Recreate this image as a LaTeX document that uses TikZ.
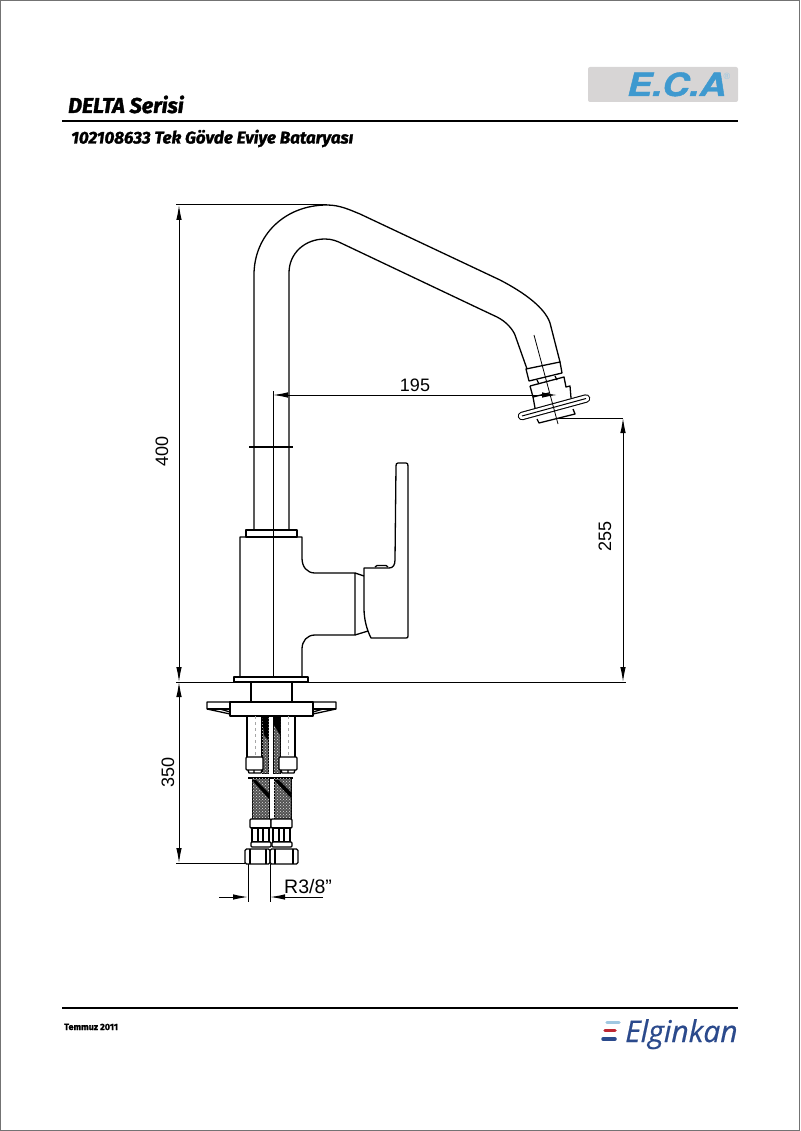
\documentclass[tikz,border=0pt]{standalone}
\usepackage{fontspec}
\usepackage{tikz}
\usetikzlibrary{arrows.meta,patterns}
\setmainfont{Liberation Sans}
\newfontfamily\titlefont[FakeBold=1.6]{Fira Sans}
\newfontfamily\logofont[FakeBold=1.2]{TeX Gyre Heros}
\newfontfamily\brandfont[FakeBold=0.5]{Open Sans}
\definecolor{ecagray}{RGB}{215,213,213}
\definecolor{ecablue}{RGB}{62,153,207}
\definecolor{brandblue}{RGB}{43,74,140}
\definecolor{brandred}{RGB}{190,40,50}
\definecolor{brandsky}{RGB}{160,200,225}
\tikzset{
	part/.style={line width=1.3pt, line join=round},
	thinpart/.style={line width=0.8pt, black!35, dashed},
	dimline/.style={line width=1pt},
	dimarrow/.style={line width=1pt, {Latex[length=15pt,width=5.5pt]}-{Latex[length=15pt,width=5.5pt]}},
	dimlabel/.style={font=\fontsize{18}{18}\selectfont, inner sep=0pt},
	rulebar/.style={line width=2.4pt},
	hose/.style={draw, line width=1pt, fill=black!68, postaction={pattern=crosshatch dots, pattern color=black!12}},
}
\begin{document}
\begin{tikzpicture}[x=1pt, y=-1pt]
	\useasboundingbox (0,0) rectangle (800,1131);
	\draw[black!55, line width=1.5pt] (0.7,0.7) rectangle (799.5,1130.3);

	% header
	\node[anchor=base west, inner sep=0pt, font=\titlefont\bfseries\itshape\fontsize{21.5}{22}\selectfont] (title) at (68,113) {DELTA Serisi};
	\node[anchor=base west, inner sep=0pt, font=\titlefont\bfseries\itshape\fontsize{17}{17}\selectfont] (subtitle) at (71,143.5) {102108633 Tek Gövde Eviye Bataryası};
	\coordinate (rule1a) at (62,121);
	\coordinate (rule1b) at (738,121);
	\draw[rulebar] (rule1a) -- (rule1b);
	\fill[ecagray, rounded corners=2pt] (588,67) rectangle (738,102);
	\node[anchor=base west, inner sep=0pt, text=ecablue, xscale=1.16, transform shape, font=\logofont\bfseries\itshape\fontsize{32}{32}\selectfont] (eca) at (627,96) {E.C.A};
	\node[inner sep=0pt, text=ecablue!55!white, font=\fontsize{9}{9}\selectfont] (reg) at (727,76) {®};

	% spout
	\draw[part] (254,530) -- (254,275) .. controls (254,235) and (285,205) .. (327,205)
		.. controls (340,205) and (350,210) .. (360,214) -- (500,280)
		.. controls (525,293) and (545,308) .. (550,323) -- (560,362);
	\draw[part] (289,530) -- (289,273) .. controls (289,253) and (305,239) .. (325,239)
		.. controls (332,239) and (337,241) .. (343,244) -- (480,309) -- (497,317)
		.. controls (507,322) and (513,330) .. (515,335) -- (527,369);
	\draw[line width=2.6pt] (249,447) -- (293,447);

	% aerator
	\draw[part] (526,369) -- (560,362) -- (562,373) -- (529,381) -- cycle;
	\draw[part] (537,380) -- (539,384);
	\draw[part] (555,376) -- (557,380);
	\draw[part] (530,386) -- (564,377) -- (566,387) -- (570,386) -- (571,398);
	\draw[part] (530,386) -- (533,397) -- (535,408);
	\draw[part] (533,397) -- (549,393);
	\draw[part] (537,419) -- (539,423) -- (575,414) -- (573,409);
	\coordinate (capa) at (522,416);
	\coordinate (capb) at (586,398.5);
	\draw[line width=8.5pt, line cap=round] (capa) -- (capb);
	\draw[white, line width=6.3pt, line cap=round] (capa) -- (capb);
	\draw[line width=1pt] (capa) -- (capb);
	\draw[line width=0.8pt] (534,335) -- (558,424);

	% body
	\draw[part] (246,530) rectangle (297,537);
	\draw[part] (240,677) -- (240,537) -- (302,537) -- (302,558)
		.. controls (302,567) and (307,573) .. (315,573) -- (355,573) -- (355,635) -- (315,635)
		.. controls (307,635) and (302,641) .. (302,649) -- (302,677);
	\draw[part] (234,677) rectangle (308,682);
	\draw[part] (355,573) -- (364,576);
	\draw[part] (355,635) -- (368,631);

	% handle
	\draw[part] (364,568) -- (364,608) .. controls (364,620) and (367,630) .. (371,638)
		-- (406,638) .. controls (407.5,638) and (408,637.5) .. (408,636) -- (408,466)
		.. controls (408,464) and (407.5,463) .. (406,463) -- (398,463)
		.. controls (396.5,463) and (396,464) .. (396,466) -- (395,560)
		.. controls (395,565) and (393,568) .. (389,568) -- cycle;
	\draw[part] (375,567) -- (377,565.5) -- (386,565.5) -- (388,567);

	% mounting
	\draw[part] (251,682) rectangle (292,702);
	\draw[part] (230,702) rectangle (313,716);
	\draw[part] (230,702) -- (207,702) -- (207,709) -- (230,714);
	\draw[part] (220,709) -- (230,712);
	\draw[part] (207,709) -- (230,709);
	\draw[part] (313,702) -- (336,702) -- (336,709) -- (313,714);
	\draw[part] (323,709) -- (313,712);
	\draw[part] (336,709) -- (313,709);

	% upper pipes
	\draw[part] (247,716) -- (247,758) (262,716) -- (262,758);
	\draw[part] (295,716) -- (295,758) (280,716) -- (280,758);
	\draw[thinpart] (255,716) -- (255,758);
	\draw[thinpart] (288,716) -- (288,758);
	\filldraw[hose] (262,716) rectangle (268.5,773);
	\filldraw[hose] (273.5,716) rectangle (280,773);
	\fill (262,716) -- (268,716) -- (268,740) -- (264,735) -- cycle;
	\fill (274,716) -- (280,716) -- (280,735) -- (274,725) -- cycle;
	\draw[part, fill=white, rounded corners=1pt] (246,757) rectangle (263,770);
	\draw[part, fill=white, rounded corners=1pt] (279,757) rectangle (297,770);
	\draw[part] (248,770) -- (249,773) -- (261,773) -- (262,770) (254,770) -- (254,773);
	\draw[part] (281,770) -- (282,773) -- (294,773) -- (295,770) (288,770) -- (288,773);

	% lower hoses
	\draw[line width=1.5pt] (248,778) -- (293,778);
	\filldraw[hose] (252,778) rectangle (269,819);
	\filldraw[hose] (274,778) rectangle (291,819);
	\fill (252,780) -- (256,780) -- (269,793) -- (269,799) -- cycle;
	\fill (274,780) -- (279,780) -- (291,792) -- (291,798) -- cycle;
	\foreach \off in {0,21} {
		\draw[part, fill=white, rounded corners=1pt] (250+\off,819) rectangle (271+\off,828);
		\draw[line width=1.6pt] (252+\off,828) rectangle (269+\off,842);
		\draw[line width=1.6pt] (258+\off,828) -- (258+\off,842) (263+\off,828) -- (263+\off,842);
		\draw[part, fill=white, rounded corners=1pt] (251+\off,842) rectangle (271+\off,847);
	}

	% nuts
	\draw[part, rounded corners=1.5pt] (245,849) rectangle (270,864);
	\draw[part, rounded corners=1.5pt] (270,849) rectangle (298,864);
	\draw[part] (250,849) -- (250,864) (266,849) -- (266,864) (275,849) -- (275,864) (293,849) -- (293,864);

	% dimensions
	\coordinate (topext) at (176,205);
	\coordinate (topend) at (327,205);
	\coordinate (baseleft) at (176,682);
	\coordinate (baseright) at (626,682);
	\coordinate (d400a) at (179,205);
	\coordinate (d400b) at (179,682);
	\coordinate (d350b) at (179,863);
	\coordinate (d350end) at (245,863);
	\coordinate (d255a) at (623,418);
	\coordinate (d255b) at (623,682);
	\coordinate (d255end) at (558,418);
	\coordinate (d195a) at (273,395);
	\coordinate (d195b) at (557,395);
	\coordinate (axistop) at (273,391);
	\coordinate (axisbot) at (273,677);
	\coordinate (ra) at (248,864);
	\coordinate (rb) at (270,864);
	\coordinate (rc) at (248,902);
	\coordinate (rd) at (270,902);
	\coordinate (re) at (219,897);
	\coordinate (rf) at (248,897);
	\coordinate (rg) at (270,897);
	\coordinate (rh) at (323,897);
	\draw[dimline] (topext) -- (topend);
	\draw[dimline] (baseleft) -- (baseright);
	\draw[dimarrow] (d400a) -- (d400b);
	\draw[dimarrow] (d400b) -- (d350b);
	\draw[dimline] (d350b -| baseleft) -- (d350end);
	\draw[dimarrow] (d255a) -- (d255b);
	\draw[dimline] (d255end) -- (d255a);
	\draw[dimarrow] (d195a) -- (d195b);
	\draw[dimline] (axistop) -- (axisbot);
	\draw[dimline] (ra) -- (rc);
	\draw[dimline] (rb) -- (rd);
	\draw[dimline, -{Latex[length=15pt,width=5.5pt]}] (re) -- (rf);
	\draw[dimline, -{Latex[length=15pt,width=5.5pt]}] (rh) -- (rg);
	\node[dimlabel] (l195) at (415,385.5) {195};
	\node[dimlabel, rotate=90] (l400) at (162,451) {400};
	\node[dimlabel, rotate=90] (l350) at (168,772) {350};
	\node[dimlabel, rotate=90] (l255) at (605,536) {255};
	\node[dimlabel, anchor=base west, font=\fontsize{19.5}{20}\selectfont] (lr) at (284,893) {R3/8”};

	% footer
	\coordinate (rule2a) at (62,1008);
	\coordinate (rule2b) at (738,1008);
	\draw[rulebar] (rule2a) -- (rule2b);
	\node[anchor=base west, inner sep=0pt, font=\titlefont\bfseries\fontsize{9}{9}\selectfont] (date) at (64,1030) {Temmuz 2011};
	\node[anchor=base west, inner sep=0pt, text=brandblue, font=\brandfont\itshape\fontsize{30}{30}\selectfont] (brand) at (625,1042) {Elginkan};
	\draw[brandsky, line width=3.5pt, line cap=round] (607,1022.5) -- (619,1022.5);
	\draw[brandred, line width=3.5pt, line cap=round] (605,1030.5) -- (615,1030.5);
	\draw[brandblue, line width=3.5pt, line cap=round] (603,1039) -- (615,1039);
\end{tikzpicture}
\end{document}
